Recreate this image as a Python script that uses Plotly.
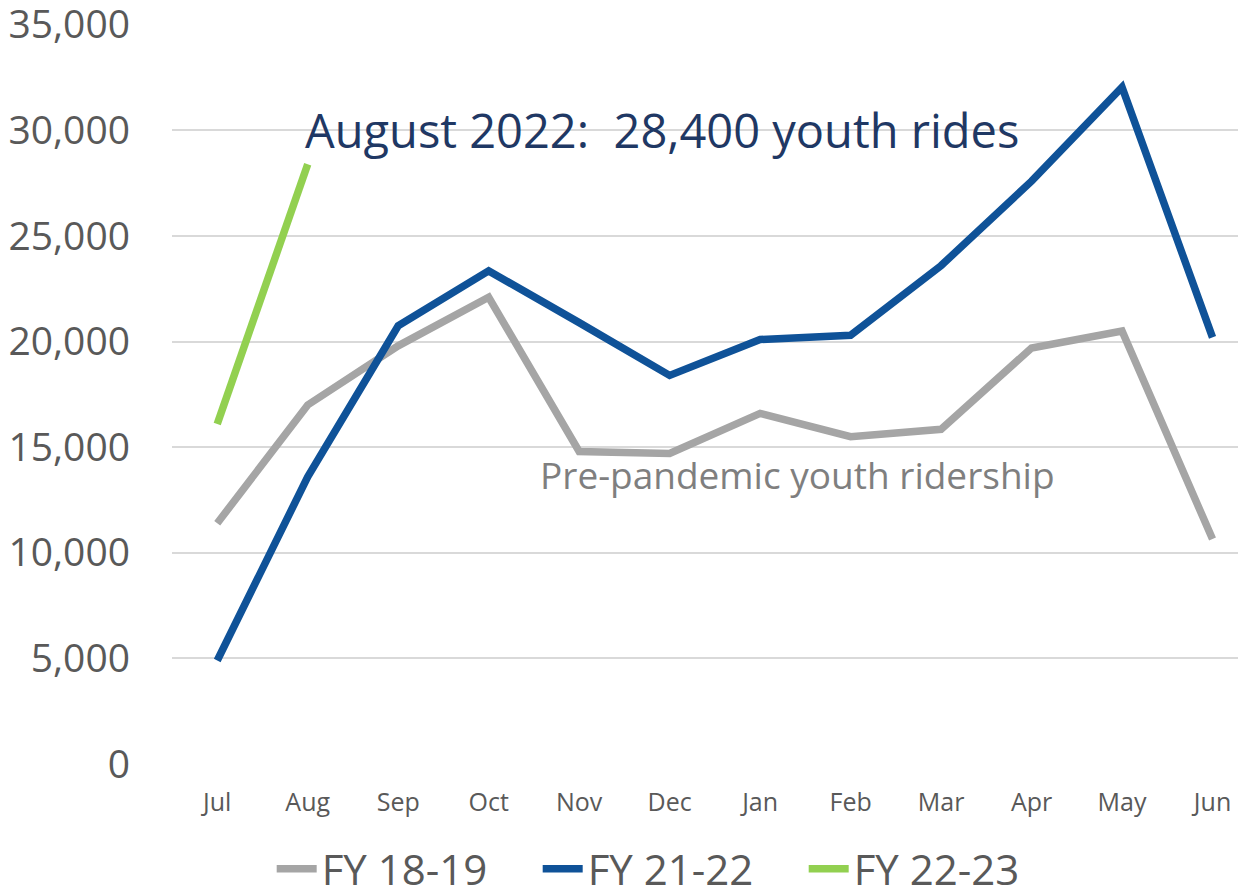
import plotly.graph_objects as go

months = ["Jul", "Aug", "Sep", "Oct", "Nov", "Dec", "Jan", "Feb", "Mar", "Apr", "May", "Jun"]
fy_18_19 = [11400, 17000, 19800, 22100, 14800, 14700, 16600, 15500, 15850, 19700, 20500, 10650]
fy_21_22 = [4900, 13600, 20750, 23350, 20900, 18400, 20100, 20300, 23600, 27600, 32050, 20200]
fy_22_23 = [16100, 28400]
y_ticks = [0, 5000, 10000, 15000, 20000, 25000, 30000, 35000]

FONT = "Open Sans"
fig = go.Figure()
fig.add_trace(go.Scatter(x=months, y=fy_18_19, name="FY 18-19", mode="lines",
                         line=dict(color="#A5A5A5", width=7.5)))
fig.add_trace(go.Scatter(x=months, y=fy_21_22, name="FY 21-22", mode="lines",
                         line=dict(color="#0F5298", width=7.5)))
fig.add_trace(go.Scatter(x=months[:len(fy_22_23)], y=fy_22_23, name="FY 22-23", mode="lines",
                         line=dict(color="#92D050", width=7.5)))

fig.add_annotation(x=1, y=30000, xref="x", yref="y", xanchor="left", yanchor="middle",
                   xshift=-5,
                   text="August 2022:\u00a0\u00a028,400 youth rides", showarrow=False,
                   font=dict(family=FONT, size=47, color="#1F3864"))
fig.add_annotation(x=3.55, y=13700, xref="x", yref="y", xanchor="left", yanchor="middle",
                   text="Pre-pandemic youth ridership", showarrow=False,
                   font=dict(family=FONT, size=37, color="#7F7F7F"))

fig.update_layout(
    width=1238, height=882,
    margin=dict(l=164, r=0, t=16, b=126),
    plot_bgcolor="white", paper_bgcolor="white",
    font=dict(family=FONT, color="#595959"),
    showlegend=True,
    legend=dict(orientation="h", xref="container", yref="container",
                x=0.213, xanchor="left", y=0.0238, yanchor="middle",
                font=dict(family=FONT, size=42, color="#595959"),
                entrywidth=211, entrywidthmode="pixels",
                itemwidth=40, traceorder="normal"),
    xaxis=dict(type="category", categoryorder="array", categoryarray=months,
               range=[-0.5, 11.37], showgrid=False, showline=False, zeroline=False,
               automargin=False,
               tickfont=dict(family=FONT, size=25, color="#595959"), ticklabelstandoff=21),
    yaxis=dict(range=[0, 35040], tickvals=y_ticks,
               ticktext=[f"{v:,}" for v in y_ticks], automargin=False,
               ticklabeloverflow="allow",
               showgrid=True, gridcolor="#D9D9D9", gridwidth=2, zeroline=False, showline=False,
               tickfont=dict(family=FONT, size=39, color="#595959"), ticklabelstandoff=41),
)

fig.write_html("out.html")
